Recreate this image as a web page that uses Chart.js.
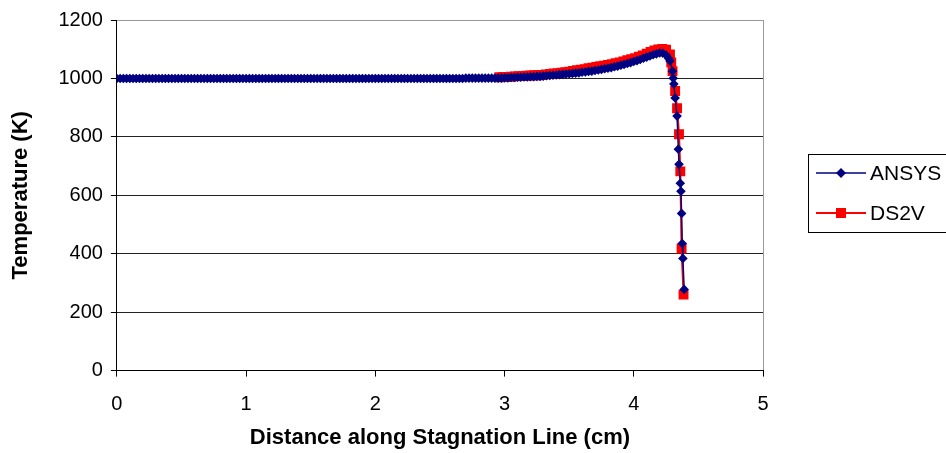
<!DOCTYPE html>
<html>
<head>
<meta charset="utf-8">
<script src="https://cdn.jsdelivr.net/npm/chart.js@4/dist/chart.umd.min.js"></script>
<style>
  html, body { margin: 0; padding: 0; background: #fff; }
  #wrap { width: 946px; height: 453px; position: relative; }
</style>
</head>
<body>
<div id="wrap"><canvas id="tempChart"></canvas></div>
<script>
// x ticks and y ticks
const xTicks = [0, 1, 2, 3, 4, 5];
const yTicks = [0, 200, 400, 600, 800, 1000, 1200];

// ANSYS - distance (cm) / temperature (K)
const ansysX = [
  0, 0.025, 0.05, 0.075, 0.1, 0.125, 0.15, 0.175, 0.2, 0.225, 0.25, 0.275, 0.3, 0.325, 0.35, 0.375, 0.4, 0.425, 0.45, 0.475,
  0.5, 0.525, 0.55, 0.575, 0.6, 0.625, 0.65, 0.675, 0.7, 0.725, 0.75, 0.775, 0.8, 0.825, 0.85, 0.875, 0.9, 0.925, 0.95, 0.975,
  1, 1.025, 1.05, 1.075, 1.1, 1.125, 1.15, 1.175, 1.2, 1.225, 1.25, 1.275, 1.3, 1.325, 1.35, 1.375, 1.4, 1.425, 1.45, 1.475,
  1.5, 1.525, 1.55, 1.575, 1.6, 1.625, 1.65, 1.675, 1.7, 1.725, 1.75, 1.775, 1.8, 1.825, 1.85, 1.875, 1.9, 1.925, 1.95, 1.975,
  2, 2.025, 2.05, 2.075, 2.1, 2.125, 2.15, 2.175, 2.2, 2.225, 2.25, 2.275, 2.3, 2.325, 2.35, 2.375, 2.4, 2.425, 2.45, 2.475,
  2.5, 2.525, 2.55, 2.575, 2.6, 2.625, 2.65, 2.675, 2.7, 2.725, 2.75, 2.775, 2.8, 2.825, 2.85, 2.875, 2.9, 2.925, 2.95, 2.975,
  3, 3.025, 3.05, 3.075, 3.1, 3.125, 3.15, 3.175, 3.2, 3.225, 3.25, 3.275, 3.3, 3.325, 3.35, 3.375, 3.4, 3.425, 3.45, 3.475,
  3.5, 3.525, 3.55, 3.575, 3.6, 3.625, 3.65, 3.675, 3.7, 3.725, 3.75, 3.775, 3.8, 3.825, 3.85, 3.875, 3.9, 3.925, 3.95, 3.975,
  4, 4.025, 4.05, 4.075, 4.1, 4.125, 4.15, 4.175, 4.2, 4.225, 4.25, 4.27, 4.28,
  4.3, 4.305, 4.31, 4.32, 4.335, 4.345, 4.35, 4.36, 4.365, 4.37, 4.375, 4.38, 4.39
];
const ansysT = [
  1000, 1000, 1000, 1000, 1000, 1000, 1000, 1000, 1000, 1000, 1000, 1000, 1000, 1000, 1000, 1000, 1000, 1000, 1000, 1000,
  1000, 1000, 1000, 1000, 1000, 1000, 1000, 1000, 1000, 1000, 1000, 1000, 1000, 1000, 1000, 1000, 1000, 1000, 1000, 1000,
  1000, 1000, 1000, 1000, 1000, 1000, 1000, 1000, 1000, 1000, 1000, 1000, 1000, 1000, 1000, 1000, 1000, 1000, 1000, 1000,
  1000, 1000, 1000, 1000, 1000, 1000, 1000, 1000, 1000, 1000, 1000, 1000, 1000, 1000, 1000, 1000, 1000, 1000, 1000, 1000,
  1000, 1000, 1000, 1000, 1000, 1000, 1000, 1000, 1000, 1000, 1000, 1000, 1000, 1000, 1000, 1000, 1000, 1000, 1000, 1000,
  1000, 1000, 1000, 1000, 1000, 1000, 1000, 1000, 1001, 1001, 1001, 1001, 1001, 1001, 1001, 1001, 1001, 1001, 1001, 1001,
  1002, 1002, 1003, 1003, 1004, 1004, 1005, 1005, 1006, 1006, 1007, 1007, 1008, 1009, 1010, 1011, 1012, 1013, 1014, 1015,
  1016, 1017, 1018, 1019, 1021, 1022, 1024, 1025, 1027, 1029, 1031, 1033, 1035, 1037, 1040, 1042, 1045, 1048, 1051, 1054,
  1058, 1061, 1065, 1069, 1073, 1077, 1081, 1084, 1087, 1086, 1080, 1068, 1060,
  1025, 1001, 981, 933, 871, 758, 706, 641, 614, 538, 435, 384, 278
];

// DS2V
const ds2vX = [
  2.96, 2.99, 3.02, 3.05, 3.08, 3.11, 3.14, 3.17, 3.2, 3.23, 3.26, 3.29, 3.32, 3.35, 3.38, 3.41, 3.44, 3.47, 3.5, 3.53,
  3.56, 3.59, 3.62, 3.65, 3.68, 3.71, 3.74, 3.77, 3.8, 3.83, 3.86, 3.89, 3.92, 3.95, 3.98, 4.01, 4.04, 4.07, 4.1, 4.13,
  4.16, 4.19, 4.22, 4.25, 4.28, 4.29, 4.3,
  4.32, 4.335, 4.35, 4.36, 4.37, 4.385
];
const ds2vT = [
  1004, 1005, 1005, 1006, 1007, 1008, 1008, 1009, 1010, 1011, 1011, 1012, 1014, 1015, 1017, 1018, 1020, 1021, 1023, 1026,
  1028, 1030, 1032, 1035, 1037, 1039, 1042, 1044, 1046, 1049, 1052, 1055, 1058, 1062, 1066, 1069, 1074, 1079, 1085, 1091,
  1096, 1099, 1101, 1098, 1082, 1055, 1025,
  957, 898, 809, 682, 418, 260
];

const seriesNames = ['ANSYS', 'DS2V'];

const FONT = '"Liberation Sans", Arial, sans-serif';

// legend drawn in a box at the right, like the original
const boxLegend = {
  id: 'boxLegend',
  afterDraw(chart) {
    const c = chart.ctx;
    const x0 = 808, y0 = 154, w = 150, h = 78;
    c.save();
    c.strokeStyle = '#000';
    c.lineWidth = 1;
    c.strokeRect(x0 + 0.5, y0 + 0.5, w, h);
    chart.data.datasets.forEach(function(ds, i) {
      const cy = y0 + 19 + i * 40;
      c.strokeStyle = ds.borderColor;
      c.lineWidth = ds.borderWidth;
      c.beginPath();
      c.moveTo(816, cy);
      c.lineTo(866, cy);
      c.stroke();
      c.fillStyle = ds.pointBackgroundColor;
      c.beginPath();
      if (ds.pointStyle === 'rectRot') {
        c.moveTo(841 - 5, cy);
        c.lineTo(841, cy - 5);
        c.lineTo(841 + 5, cy);
        c.lineTo(841, cy + 5);
        c.closePath();
      } else {
        c.rect(841 - 5, cy - 5, 10, 10);
      }
      c.fill();
      c.fillStyle = '#000';
      c.font = '21px ' + FONT;
      c.textBaseline = 'middle';
      c.fillText(ds.label, 870, cy + 1);
    });
    c.restore();
  }
};

new Chart(document.getElementById('tempChart'), {
  type: 'scatter',
  data: {
    datasets: [
      {
        label: seriesNames[0],
        data: ansysX.map((x, i) => ({ x: x, y: ansysT[i] })),
        showLine: true,
        borderColor: '#000080',
        borderWidth: 1.5,
        pointStyle: 'rectRot',
        pointRadius: 4.8,
        pointBackgroundColor: '#000080',
        pointBorderWidth: 0,
        tension: 0
      },
      {
        label: seriesNames[1],
        data: ds2vX.map((x, i) => ({ x: x, y: ds2vT[i] })),
        showLine: true,
        borderColor: '#ff0000',
        borderWidth: 2,
        pointStyle: 'rect',
        pointRadius: 7,
        pointBackgroundColor: '#ff0000',
        pointBorderWidth: 0,
        tension: 0
      }
    ]
  },
  options: {
    responsive: true,
    maintainAspectRatio: false,
    animation: false,
    layout: { padding: { left: 8, right: 183, top: 7, bottom: 2 } },
    plugins: {
      legend: { display: false },
      tooltip: { enabled: false }
    },
    scales: {
      x: {
        type: 'linear',
        min: 0,
        max: 5,
        afterBuildTicks: axis => { axis.ticks = xTicks.map(v => ({ value: v })); },
        border: { color: '#000', width: 1 },
        grid: {
          color: ctx => (ctx.tick && ctx.tick.value === 5) ? '#999' : 'rgba(0,0,0,0)',
          tickColor: '#000',
          tickLength: 6,
          drawOnChartArea: true
        },
        ticks: { color: '#000', font: { family: FONT, size: 20 }, padding: 16, callback: v => String(v) },
        title: {
          display: true,
          text: 'Distance along Stagnation Line (cm)',
          color: '#000',
          font: { family: FONT, size: 22, weight: 'bold' },
          padding: { top: -8, bottom: 0 }
        }
      },
      y: {
        min: 0,
        max: 1200,
        afterBuildTicks: axis => { axis.ticks = yTicks.map(v => ({ value: v })); },
        border: { color: '#000', width: 1 },
        grid: {
          color: ctx => (ctx.tick && ctx.tick.value === 1200) ? '#999' : '#222',
          tickColor: '#000',
          tickLength: 6
        },
        ticks: { color: '#000', font: { family: FONT, size: 20 }, padding: 8, callback: v => String(v) },
        title: {
          display: true,
          text: 'Temperature (K)',
          color: '#000',
          font: { family: FONT, size: 22, weight: 'bold' },
          padding: { top: 0, bottom: 16 }
        }
      }
    }
  },
  plugins: [boxLegend]
});
</script>
</body>
</html>
